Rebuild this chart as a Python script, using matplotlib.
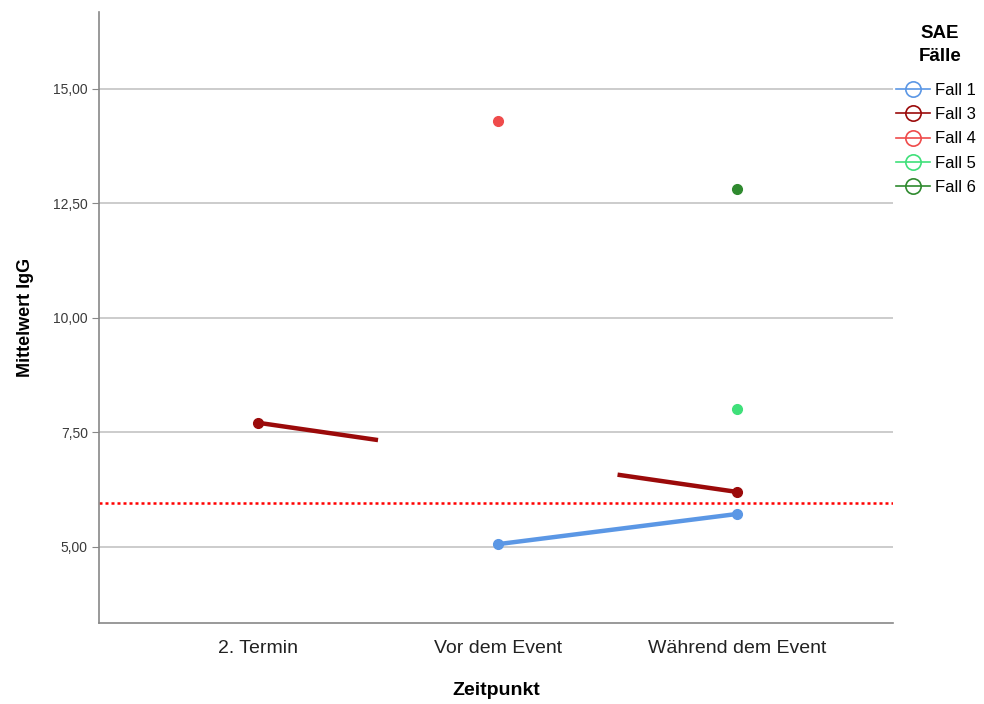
import numpy as np
import matplotlib.pyplot as plt

plt.rcParams['font.family'] = ['Liberation Sans', 'DejaVu Sans']

# Data
zeitpunkte = ['2. Termin', 'Vor dem Event', 'Während dem Event']
faelle = ['Fall 1', 'Fall 3', 'Fall 4', 'Fall 5', 'Fall 6']
farben = ['#5b97e5', '#9b0a0a', '#ef4b4b', '#3fe07a', '#2f8a2f']
# NaN = kein Wert an diesem Zeitpunkt
fall1 = [np.nan, 5.06, 5.72]
fall3 = [7.71, np.nan, 6.20]
fall4 = [np.nan, 14.30, np.nan]
fall5 = [np.nan, np.nan, 8.01]
fall6 = [np.nan, np.nan, 12.82]
werte = [fall1, fall3, fall4, fall5, fall6]
referenz = 5.96

fig = plt.figure(figsize=(9.84, 7.04), dpi=100)
ax = fig.add_axes([0.1006, 0.1151, 0.8069, 0.868])

x = np.arange(len(zeitpunkte))
for name, col, y in zip(faelle, farben, werte):
    y = np.array(y, dtype=float)
    ok = ~np.isnan(y)
    xs, ys = x[ok], y[ok]
    # SPSS-Stil: Linie über fehlende Kategorie hinweg, dort aber unterbrochen
    for i in range(len(xs) - 1):
        x0, x1 = xs[i], xs[i + 1]
        if x1 - x0 == 1:
            ax.plot([x0, x1], [ys[i], ys[i + 1]], c=col, lw=3.2, solid_capstyle='butt', zorder=3)
        else:
            for a, b in [(x0, x0 + 0.5), (x1 - 0.5, x1)]:
                ax.plot([a, b], np.interp([a, b], [x0, x1], [ys[i], ys[i + 1]]),
                        c=col, lw=3.2, solid_capstyle='butt', zorder=3)
    ax.plot(xs, ys, 'o', c=col, ms=7, zorder=4)
    ax.plot([], [], '-', c=col, lw=1.2, marker='o', ms=11, mfc='none', mew=1.2, label=name)

ax.axhline(referenz, color='#ff0000', ls=(0, (1.2, 1.2)), lw=1.8, zorder=2)

yt = [5, 7.5, 10, 12.5, 15]
ax.set_yticks(yt)
ax.set_yticklabels([('%.2f' % v).replace('.', ',') for v in yt], fontsize=10, color='#3a3a3a')
ax.set_xticks(x)
ax.set_xticklabels(zeitpunkte, fontsize=14, color='#222222')
ax.set_xlim(-0.665, 2.65)
ax.set_ylim(3.34, 16.68)
ax.grid(axis='y', color='#c8c8c8', lw=1.3, zorder=1)
ax.set_axisbelow(True)
for s in ['top', 'right']:
    ax.spines[s].set_visible(False)
for s in ['left', 'bottom']:
    ax.spines[s].set_color('#888888')
    ax.spines[s].set_linewidth(1.2)
ax.tick_params(axis='y', length=5, color='#888888', pad=3)
ax.tick_params(axis='x', length=0, pad=12)

ax.set_ylabel('Mittelwert IgG', fontsize=13, fontweight='bold', labelpad=14)
ax.set_xlabel('Zeitpunkt', fontsize=14, fontweight='bold', labelpad=18)

fig.text(0.955, 0.964, 'SAE\nFälle', ha='center', va='top', fontsize=13.5,
         fontweight='bold', linespacing=1.45)
leg = fig.legend(loc='upper left', bbox_to_anchor=(0.911, 0.882), frameon=False,
                 fontsize=12, handlelength=2.0, handletextpad=0.3,
                 labelspacing=0.55, borderaxespad=0, borderpad=0)

fig.savefig('out.png', dpi=100)
